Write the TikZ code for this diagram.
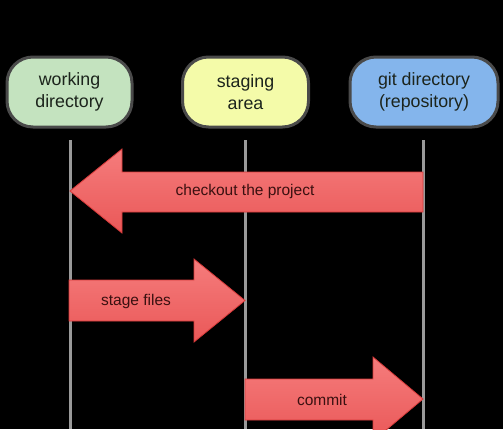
\documentclass[tikz,border=0pt]{standalone}
\usepackage{fontspec}
\setmainfont{Liberation Sans}
\usetikzlibrary{calc}
\definecolor{wdfill}{HTML}{C4E3BF}
\definecolor{safill}{HTML}{F4FBA9}
\definecolor{gdfill}{HTML}{84B5EC}
\definecolor{boxline}{HTML}{4A4A4A}
\definecolor{lifeline}{HTML}{9A9A9A}
\definecolor{arrtop}{HTML}{F57C7C}
\definecolor{arrbot}{HTML}{EA5858}
\definecolor{arrline}{HTML}{D83A3A}
\definecolor{arrtext}{HTML}{3A1010}
\definecolor{boxtext}{HTML}{1C241C}
\tikzset{
  x=1pt, y=-1pt,
  stagebox/.style={draw=boxline, line width=3pt, rounded corners=26pt,
    minimum width=125pt, minimum height=70pt, align=center,
    font=\fontsize{17.8}{22}\selectfont, text=boxtext, inner sep=0pt},
  life/.style={draw=lifeline, line width=3pt},
  blockarrow/.style={top color=arrtop, bottom color=arrbot, draw=arrline, line width=0.8pt, line join=miter},
  arrlabel/.style={font=\fontsize{15.5}{18}\selectfont, text=arrtext, inner sep=0pt}
}
\begin{document}
\begin{tikzpicture}
\fill[black] (0,0) rectangle (503,429);
\useasboundingbox (0,0) rectangle (503,429);
% lifelines
\coordinate (wdtop) at (70,140);
\coordinate (satop) at (245,140);
\coordinate (gdtop) at (423,140);
\coordinate (wdbot) at (70,429);
\coordinate (sabot) at (245,429);
\coordinate (gdbot) at (423,429);
\draw[life] (wdtop) -- (wdbot);
\draw[life] (satop) -- (sabot);
\draw[life] (gdtop) -- (gdbot);
% boxes
\node[stagebox, fill=wdfill] (wd) at (69.5,92) {working\\directory};
\node[stagebox, fill=safill, minimum width=126pt] (sa) at (245.5,92) {staging\\area};
\node[stagebox, fill=gdfill, minimum width=148pt] (gd) at (424,92) {git directory\\(repository)};
% checkout arrow (right to left)
\path[blockarrow] (423,172) -- (122,172) -- (122,149) -- (70,191) -- (122,233) -- (122,212) -- (423,212) -- cycle;
\node[arrlabel] (co) at (245,191) {checkout the project};
% stage files arrow
\path[blockarrow] (69,280) -- (194,280) -- (194,259) -- (245,300.5) -- (194,342) -- (194,321) -- (69,321) -- cycle;
\node[arrlabel] (sf) at (136,301) {stage files};
% commit arrow
\path[blockarrow] (245,379) -- (373,379) -- (373,357) -- (423,399) -- (373,441) -- (373,420) -- (245,420) -- cycle;
\node[arrlabel] (cm) at (322,400) {commit};
\end{tikzpicture}
\end{document}
